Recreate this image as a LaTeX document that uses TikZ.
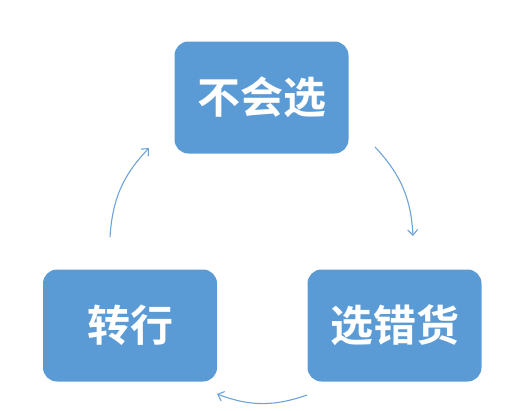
\documentclass[tikz,border=0pt]{standalone}
\usepackage{fontspec}
\newfontfamily\cjk{Noto Sans CJK SC Bold}
\usetikzlibrary{arrows.meta}
\definecolor{boxblue}{HTML}{5B9BD5}
\definecolor{arrowblue}{HTML}{6FA3D8}
\begin{document}
\begin{tikzpicture}[x=1pt,y=-1pt,
  stagebox/.style={draw=none,fill=boxblue,rounded corners=14pt,minimum width=174pt,minimum height=112pt,inner sep=0pt,text=white,font=\cjk\fontsize{43}{43}\selectfont},
  cycarrow/.style={draw=arrowblue,line width=1.1pt,-{Straight Barb[length=5.5pt,width=10pt,line width=1.1pt]}}]
\useasboundingbox (0,0) rectangle (529,410);
\node[stagebox] (top) at (261.5,97.5) {不会选};
\node[stagebox] (right) at (394.5,325.5) {选错货};
\node[stagebox] (left) at (130,325.5) {转行};
\coordinate (a1s) at (375,147);
\coordinate (a1e) at (413,236);
\coordinate (a2s) at (307,395);
\coordinate (a2e) at (217,394);
\coordinate (a3s) at (110,237);
\coordinate (a3e) at (149,148);
\draw[cycarrow] (a1s) to[bend left=20] (a1e);
\draw[cycarrow] (a2s) to[bend left=20] (a2e);
\draw[cycarrow] (a3s) to[bend left=20] (a3e);
\end{tikzpicture}
\end{document}
